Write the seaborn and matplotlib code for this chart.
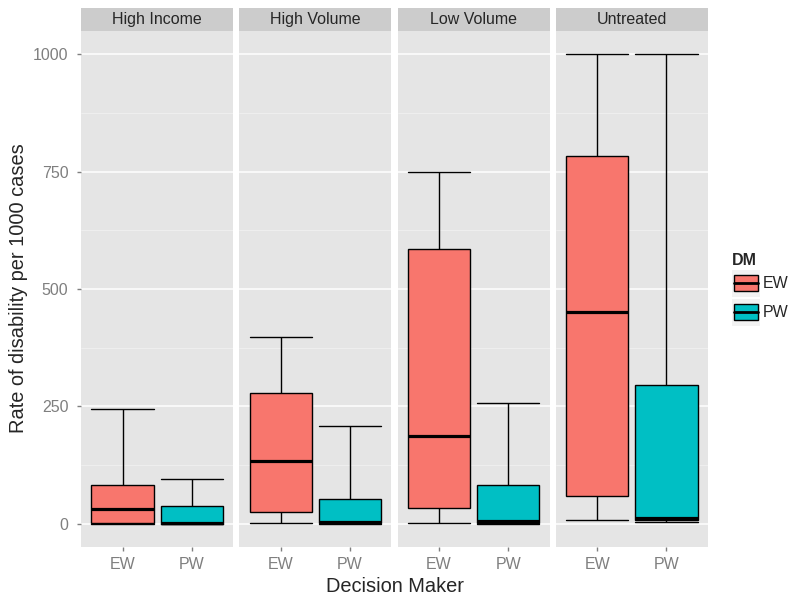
import pandas as pd
import numpy as np
import seaborn as sb
import matplotlib
matplotlib.use("Agg")
import matplotlib.pyplot as plt
from matplotlib.patches import Patch, Rectangle
from matplotlib.lines import Line2D
from matplotlib.legend_handler import HandlerBase
from matplotlib.ticker import MultipleLocator

# Date (rata de dizabilitate la 1000 de cazuri)
facets = ["High Income", "High Volume", "Low Volume", "Untreated"]
dm = ["EW", "PW"]
# cele 5 valori pe fiecare cutie: min, Q1, mediana, Q3, max
ew_min = [0, 1, 2, 8]
ew_q1 = [1, 25, 33, 58]
ew_med = [32, 133, 186, 450]
ew_q3 = [82, 279, 586, 784]
ew_max = [244, 397, 750, 1000]
pw_min = [0, 0, 0, 3]
pw_q1 = [0, 1, 2, 8]
pw_med = [2, 4, 6, 12]
pw_q3 = [37, 52, 82, 296]
pw_max = [95, 207, 258, 1000]

culori = {"EW": "#F8766D", "PW": "#00BFC4"}

# Tabel lung pentru seaborn
randuri = []
for i, f in enumerate(facets):
    for v in (ew_min[i], ew_q1[i], ew_med[i], ew_q3[i], ew_max[i]):
        randuri.append((f, "EW", v))
    for v in (pw_min[i], pw_q1[i], pw_med[i], pw_q3[i], pw_max[i]):
        randuri.append((f, "PW", v))
df = pd.DataFrame(randuri, columns=["facet", "DM", "rate"])


# Cheie de legenda in stil ggplot: fundal gri deschis + cutie cu mediana
class CheieBox(HandlerBase):
    def create_artists(self, legend, orig_handle, xdescent, ydescent, width, height, fontsize, trans):
        x0, y0 = -xdescent, -ydescent
        ix, iy = width * 0.07, height * 0.2
        fundal = Rectangle((x0, y0), width, height, facecolor="#F2F2F2", edgecolor="none",
                           transform=trans)
        cutie = Rectangle((x0 + ix, y0 + iy), width - 2 * ix, height - 2 * iy,
                          facecolor=orig_handle.get_facecolor(), edgecolor="black", linewidth=1,
                          transform=trans)
        med = Line2D([x0 + ix, x0 + width - ix], [y0 + height / 2] * 2, color="black",
                     linewidth=2, transform=trans)
        return [fundal, cutie, med]


sb.set_theme(style="darkgrid", rc={"axes.facecolor": "#E5E5E5", "grid.color": "white",
                                   "grid.linewidth": 1.1, "axes.edgecolor": "#E5E5E5"})
plt.rcParams["font.family"] = ["Liberation Sans", "DejaVu Sans"]

fig, axes = plt.subplots(1, 4, figsize=(7.92, 5.96), dpi=100, sharey=True)
fig.subplots_adjust(left=81/792, right=708/792, bottom=1-547/596, top=1-31/596, wspace=6/152)

for ax, f in zip(axes, facets):
    sub = df[df["facet"] == f]
    sb.boxplot(data=sub, x="DM", y="rate", hue="DM", order=dm, hue_order=dm, palette=culori,
               saturation=1, width=0.9, whis=(0, 100), linecolor="black", linewidth=1,
               medianprops={"linewidth": 2.3}, capwidths=0.9, legend=False, ax=ax)
    ax.set_xlim(-0.6, 1.6)
    ax.set_ylim(-50, 1050)
    ax.set_yticks([0, 250, 500, 750, 1000])
    ax.yaxis.set_minor_locator(MultipleLocator(125))
    ax.grid(which="minor", axis="y", color="#F2F2F2", linewidth=0.5)
    ax.set_axisbelow(True)
    ax.set_xlabel("")
    ax.set_ylabel("")
    for s in ax.spines.values():
        s.set_visible(False)
    ax.tick_params(which="major", bottom=True, left=True, length=3, width=1, pad=6,
                   color="#7F7F7F", labelcolor="#7F7F7F", labelsize=11.5)
    ax.tick_params(axis="x", which="major", pad=4.5)
    ax.tick_params(which="minor", length=0)
    # banda de titlu a fatetei
    ax.add_patch(Rectangle((0, 1), 1, 23/516, transform=ax.transAxes, clip_on=False,
                           facecolor="#CCCCCC", edgecolor="none"))
    ax.text(0.5, 1 + 11.5/516, f, transform=ax.transAxes, ha="center", va="center", fontsize=11.5)

for ax in axes[1:]:
    ax.tick_params(which="major", left=False, labelleft=False)

fig.text(19/792, 1-288.5/596, "Rate of disability per 1000 cases", rotation=90,
         ha="center", va="center", fontsize=14.4)
fig.text(394.5/792, 1-586/596, "Decision Maker", ha="center", va="center", fontsize=14.4)

handles = [Patch(facecolor=culori[d]) for d in dm]
fig.legend(handles, dm, title="DM", loc="upper left", bbox_to_anchor=(732/792, 1-253/596),
           frameon=False, fontsize=11.5, title_fontproperties={"weight": "bold", "size": 11.5},
           handlelength=1.75, handleheight=2.22, labelspacing=0.12, handletextpad=0.2,
           borderpad=0, borderaxespad=0, alignment="left", handler_map={Patch: CheieBox()})

plt.savefig("out.png", dpi=100)
